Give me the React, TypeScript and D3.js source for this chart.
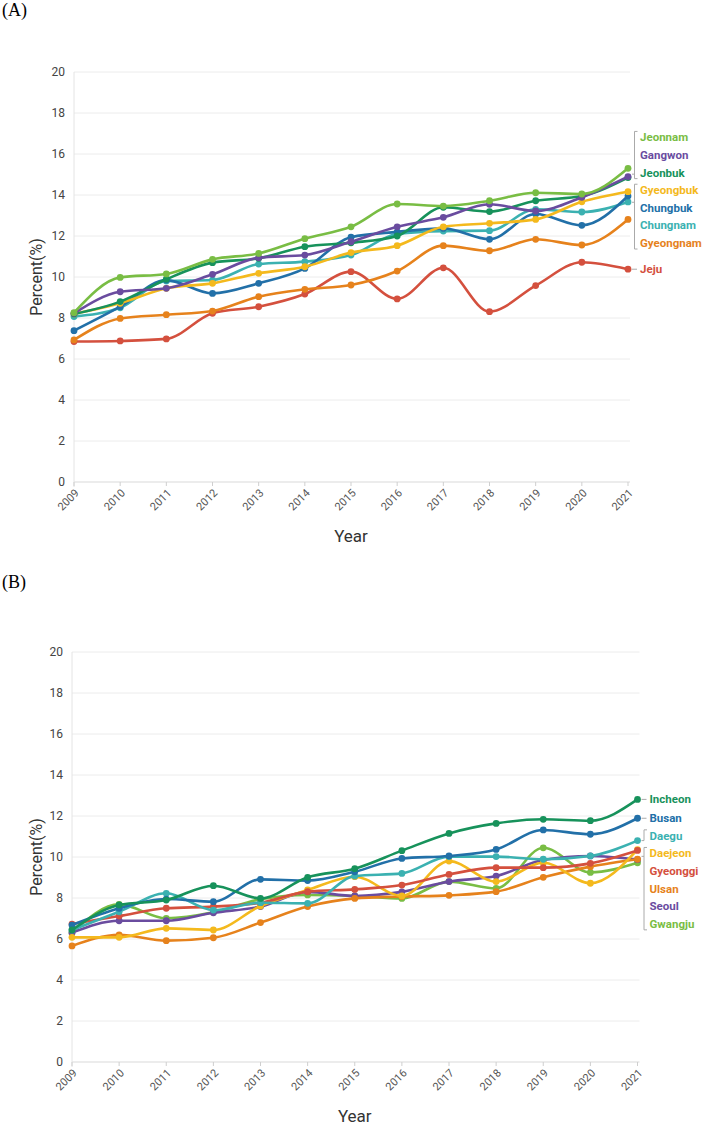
import React from 'react';
import * as d3 from 'd3';

const YEARS = [2009, 2010, 2011, 2012, 2013, 2014, 2015, 2016, 2017, 2018, 2019, 2020, 2021];
const Y_TICKS = [0, 2, 4, 6, 8, 10, 12, 14, 16, 18, 20];

// Panel A
const jeonnam = [8.26, 9.98, 10.15, 10.86, 11.15, 11.87, 12.45, 13.56, 13.46, 13.72, 14.11, 14.05, 15.3];
const gangwon = [8.23, 9.28, 9.45, 10.13, 10.94, 11.07, 11.72, 12.45, 12.91, 13.55, 13.22, 13.89, 14.9];
const jeonbuk = [8.2, 8.8, 9.89, 10.7, 10.91, 11.48, 11.67, 12.0, 13.4, 13.19, 13.72, 13.95, 14.85];
const gyeongbuk = [8.2, 8.72, 9.45, 9.69, 10.18, 10.5, 11.19, 11.53, 12.45, 12.62, 12.81, 13.67, 14.16];
const chungbuk = [7.38, 8.55, 9.85, 9.2, 9.69, 10.42, 11.94, 12.2, 12.37, 11.84, 13.07, 12.52, 13.95];
const chungnam = [8.07, 8.5, 9.8, 9.85, 10.63, 10.75, 11.07, 12.1, 12.24, 12.26, 13.3, 13.17, 13.66];
const gyeongnam = [6.93, 7.98, 8.16, 8.34, 9.04, 9.4, 9.61, 10.29, 11.53, 11.28, 11.84, 11.56, 12.81];
const jeju = [6.85, 6.88, 6.98, 8.23, 8.55, 9.17, 10.26, 8.93, 10.45, 8.31, 9.58, 10.72, 10.38];

// Panel B
const incheon = [6.44, 7.66, 7.9, 8.6, 7.98, 9.01, 9.43, 10.31, 11.15, 11.64, 11.84, 11.77, 12.81];
const busan = [6.68, 7.5, 7.95, 7.82, 8.91, 8.85, 9.28, 9.93, 10.05, 10.37, 11.32, 11.11, 11.89];
const daegu = [6.44, 7.33, 8.23, 7.41, 7.77, 7.74, 9.07, 9.2, 10.02, 10.02, 9.89, 10.05, 10.8];
const daejeon = [6.08, 6.08, 6.52, 6.44, 7.61, 8.39, 9.04, 8.1, 9.8, 8.8, 9.72, 8.72, 10.36];
const gyeonggi = [6.73, 7.12, 7.5, 7.58, 7.77, 8.31, 8.42, 8.63, 9.15, 9.48, 9.48, 9.69, 10.32];
const ulsan = [5.66, 6.2, 5.92, 6.06, 6.8, 7.58, 7.98, 8.07, 8.13, 8.31, 9.01, 9.53, 9.89];
const seoul = [6.31, 6.89, 6.89, 7.28, 7.58, 8.3, 8.1, 8.3, 8.8, 9.07, 9.85, 10.05, 9.87];
const gwangju = [6.3, 7.69, 7.01, 7.3, 7.94, 8.15, 8.1, 7.98, 8.8, 8.47, 10.45, 9.25, 9.72];

const C = {
  lightGreen: '#79bd44',
  purple: '#6a4c9f',
  darkGreen: '#17925b',
  yellow: '#f4b91d',
  blue: '#2270a8',
  teal: '#3bb1b1',
  orange: '#e6821c',
  red: '#d4503e',
};

type Series = { name: string; values: number[]; color: string };

const seriesA: Series[] = [
  { name: 'Jeju', values: jeju, color: C.red },
  { name: 'Gyeongnam', values: gyeongnam, color: C.orange },
  { name: 'Chungnam', values: chungnam, color: C.teal },
  { name: 'Chungbuk', values: chungbuk, color: C.blue },
  { name: 'Gyeongbuk', values: gyeongbuk, color: C.yellow },
  { name: 'Jeonbuk', values: jeonbuk, color: C.darkGreen },
  { name: 'Gangwon', values: gangwon, color: C.purple },
  { name: 'Jeonnam', values: jeonnam, color: C.lightGreen },
];

const seriesB: Series[] = [
  { name: 'Gwangju', values: gwangju, color: C.lightGreen },
  { name: 'Seoul', values: seoul, color: C.purple },
  { name: 'Ulsan', values: ulsan, color: C.orange },
  { name: 'Daejeon', values: daejeon, color: C.yellow },
  { name: 'Gyeonggi', values: gyeonggi, color: C.red },
  { name: 'Daegu', values: daegu, color: C.teal },
  { name: 'Busan', values: busan, color: C.blue },
  { name: 'Incheon', values: incheon, color: C.darkGreen },
];

const bracketsA = [['Jeonnam', 'Gangwon', 'Jeonbuk'], ['Gyeongbuk', 'Chungbuk', 'Chungnam', 'Gyeongnam']];
const bracketsB = [['Daegu'], ['Daejeon', 'Gyeonggi', 'Ulsan', 'Seoul', 'Gwangju']];

const FONT = 'Roboto, "Noto Sans", sans-serif';
const SPACING = 17.6;

function layoutLabels(items: { name: string; y: number }[]) {
  const sorted = [...items].sort((a, b) => a.y - b.y);
  const clusters: { name: string; y: number }[][] = [];
  sorted.forEach((it) => {
    const last = clusters[clusters.length - 1];
    if (last && it.y - last[last.length - 1].y < SPACING) last.push(it);
    else clusters.push([it]);
  });
  const pos: Record<string, number> = {};
  let prevEnd = -Infinity;
  clusters.forEach((cl) => {
    const mean = d3.mean(cl, (d) => d.y) as number;
    let start = mean - ((cl.length - 1) / 2) * SPACING;
    start = Math.max(start, prevEnd + SPACING);
    cl.forEach((d, i) => (pos[d.name] = start + i * SPACING));
    prevEnd = start + (cl.length - 1) * SPACING;
  });
  return pos;
}

function Panel({ series, brackets, top, bottom, left, right, tag, tagY }: any) {
  const x = d3.scalePoint<number>().domain(YEARS).range([left, right]);
  const y = d3.scaleLinear().domain([0, 20]).range([bottom, top]);
  const line = d3
    .line<number>()
    .x((_, i) => x(YEARS[i]) as number)
    .y((d) => y(d))
    .curve(d3.curveMonotoneX);
  const last = YEARS.length - 1;
  const ends = series.map((s: Series) => ({ name: s.name, y: y(s.values[last]) }));
  const labelPos = layoutLabels(ends);
  const endX = x(YEARS[last]) as number;
  const labelX = endX + 12;
  const bracketX = endX + 6.5;
  const inBracket = new Set(brackets.flat());
  const endY: Record<string, number> = {};
  ends.forEach((e: any) => (endY[e.name] = e.y));
  const midX = (left + right) / 2;
  const midY = (top + bottom) / 2;

  return (
    <g>
      <text x={2} y={tagY} fontFamily='"Liberation Serif", "Times New Roman", serif' fontSize={18} fill="#000">
        {tag}
      </text>
      {Y_TICKS.map((t) => (
        <g key={t}>
          <line x1={left} x2={right + 2} y1={y(t)} y2={y(t)} stroke={t === 0 ? '#d9d9d9' : '#ececec'} strokeWidth={1} />
          <text x={left - 9} y={y(t)} dy="0.35em" textAnchor="end" fontFamily={FONT} fontSize={12} fill="#444">
            {t}
          </text>
        </g>
      ))}
      <line x1={left} x2={left} y1={top} y2={bottom + 5} stroke="#e4e4e4" strokeWidth={1} />
      {YEARS.map((yr) => (
        <g key={yr}>
          <line x1={x(yr)} x2={x(yr)} y1={bottom} y2={bottom + 4} stroke="#cfcfcf" />
          <text
            transform={`translate(${(x(yr) as number) + 3},${bottom + 9}) rotate(-45)`}
            textAnchor="end"
            dy="0.35em"
            fontFamily={FONT}
            fontSize={11}
            fill="#555"
          >
            {yr}
          </text>
        </g>
      ))}
      <text x={midX} y={bottom + 60} textAnchor="middle" fontFamily={FONT} fontSize={17} fill="#333">
        Year
      </text>
      <text
        transform={`translate(42,${midY}) rotate(-90)`}
        textAnchor="middle"
        fontFamily={FONT}
        fontSize={16}
        fill="#333"
      >
        Percent(%)
      </text>
      {series.map((s: Series) => (
        <g key={s.name}>
          <path d={line(s.values) as string} fill="none" stroke={s.color} strokeWidth={2.6} strokeLinejoin="round" />
          {s.values.map((v, i) => (
            <circle key={i} cx={x(YEARS[i])} cy={y(v)} r={3.4} fill={s.color} />
          ))}
        </g>
      ))}
      {brackets.map((grp: string[], gi: number) => {
        const ys = grp.map((n) => labelPos[n]);
        const y0 = Math.min(...ys) - 6;
        const y1 = Math.max(...ys) + 6;
        const em = d3.mean(grp, (n) => endY[n]) as number;
        const tickY = Math.max(y0, Math.min(y1, em));
        if (grp.length === 1) {
          const ly = labelPos[grp[0]];
          return (
            <path
              key={gi}
              d={`M${endX + 4},${endY[grp[0]]}H${bracketX}V${ly - 6}H${bracketX + 3}`}
              fill="none"
              stroke="#aaa"
              strokeWidth={1}
            />
          );
        }
        return (
          <g key={gi}>
            <path d={`M${bracketX + 3},${y0}H${bracketX}V${y1}H${bracketX + 3}`} fill="none" stroke="#aaa" strokeWidth={1} />
            <line x1={endX + 4} x2={bracketX} y1={tickY} y2={tickY} stroke="#aaa" strokeWidth={1} />
          </g>
        );
      })}
      {series.map((s: Series) => (
        <g key={s.name}>
          {!inBracket.has(s.name) && (
            <line x1={endX + 4} x2={endX + 9} y1={labelPos[s.name]} y2={labelPos[s.name]} stroke="#aaa" strokeWidth={1} />
          )}
          <text
            x={labelX}
            y={labelPos[s.name]}
            dy="0.35em"
            fontFamily={FONT}
            fontSize={11.5}
            fontWeight={700}
            fill={s.color}
          >
            {s.name}
          </text>
        </g>
      ))}
    </g>
  );
}

export default function App() {
  return (
    <svg
      width={705}
      height={1129}
      style={{ position: 'absolute', left: 0, top: 0, background: '#fff' }}
    >
      <rect width={705} height={1129} fill="#fff" />
      <Panel series={seriesA} brackets={bracketsA} top={72} bottom={482} left={74} right={628} tag="(A)" tagY={16} />
      <Panel series={seriesB} brackets={bracketsB} top={652} bottom={1062} left={72} right={637.5} tag="(B)" tagY={588} />
    </svg>
  );
}
